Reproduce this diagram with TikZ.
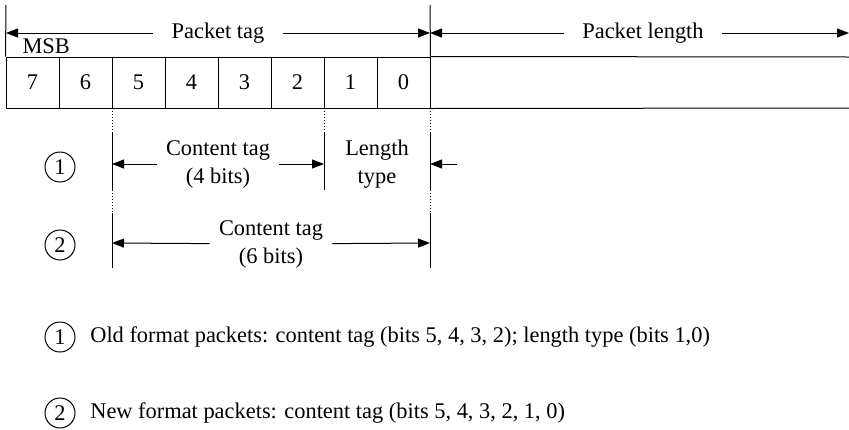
\documentclass[tikz,border=0pt]{standalone}
\usepackage{fontspec}
\setmainfont{Liberation Serif}
\usetikzlibrary{arrows.meta,positioning}

\begin{document}
\begin{tikzpicture}[x=1pt, y=-1pt, font=\fontsize{22.4}{28}\selectfont, line width=1pt,
  bitcell/.style={draw, minimum width=53pt, minimum height=51pt, inner sep=0pt},
  dim/.style={-{Triangle[length=12pt,width=9pt]}},
  toplabel/.style={inner xsep=18pt, inner ysep=0pt},
  sublabel/.style={align=center, inner xsep=9pt, inner ysep=0pt},
  numcirc/.style={draw, circle, minimum size=30pt, inner sep=0pt}]
\useasboundingbox (0,0) rectangle (849,429);
% bit cells, MSB on the left
\foreach \b [count=\i from 0] in {7,...,0} { \node[bitcell] (b\b) at (32.5+53*\i,82.5) {\b}; }
\coordinate (ltop) at (6,5);
\coordinate (mtop) at (430,5);
\coordinate (rtop) at (849,57);
\coordinate (rbot) at (849,108);
\draw (ltop) -- (b7.north west);
\draw (mtop) -- (b0.north east);
\draw (b0.north east) -- (rtop);
\draw (b0.south east) -- (rbot);
\node[anchor=base west, inner sep=0pt] (msb) at (22,53) {MSB};
% top dimension arrows
\coordinate (tagL) at (6,33);
\coordinate (tagR) at (430,33);
\coordinate (lenR) at (849,33);
\node[toplabel] (ptag) at (218,33) {Packet tag};
\node[toplabel] (plen) at (643,33) {Packet length};
\draw[dim] (ptag) -- (tagL);
\draw[dim] (ptag) -- (tagR);
\draw[dim] (plen) -- (tagR);
\draw[dim] (plen) -- (lenR);
% guide lines below the cells
\foreach \x in {112,324,430} { \draw[dotted] (\x,108) -- (\x,132); }
\foreach \x in {112,324,430} { \draw (\x,132) -- (\x,190); }
\foreach \x in {112,430} { \draw[dotted] (\x,190) -- (\x,213); \draw (\x,213) -- (\x,268); }
% format 1
\coordinate (f1a) at (112,164);
\coordinate (f1b) at (324,164);
\coordinate (f1c) at (430,164);
\coordinate (f1d) at (457,164);
\node[numcirc] (n1) at (60,167) {1};
\node[sublabel] (ct4) at (218,164) {Content tag\\(4 bits)};
\node[sublabel] (ltype) at (377,164) {Length\\type};
\draw[dim] (ct4) -- (f1a);
\draw[dim] (ct4) -- (f1b);
\draw[dim] (f1d) -- (f1c);
% format 2
\coordinate (f2a) at (112,243);
\coordinate (f2b) at (430,243);
\node[numcirc] (n2) at (60,245) {2};
\node[sublabel] (ct6) at (271,244) {Content tag\\(6 bits)};
\draw[dim] (ct6) -- (f2a);
\draw[dim] (ct6) -- (f2b);
% legend
\node[numcirc] (k1) at (60,337) {1};
\node[right=11pt of k1] (old) {Old format packets: content tag (bits 5, 4, 3, 2); length type (bits 1,0)};
\node[numcirc] (k2) at (60,413) {2};
\node[right=11pt of k2] (new) {New format packets: content tag (bits 5, 4, 3, 2, 1, 0)};
\end{tikzpicture}
\end{document}
